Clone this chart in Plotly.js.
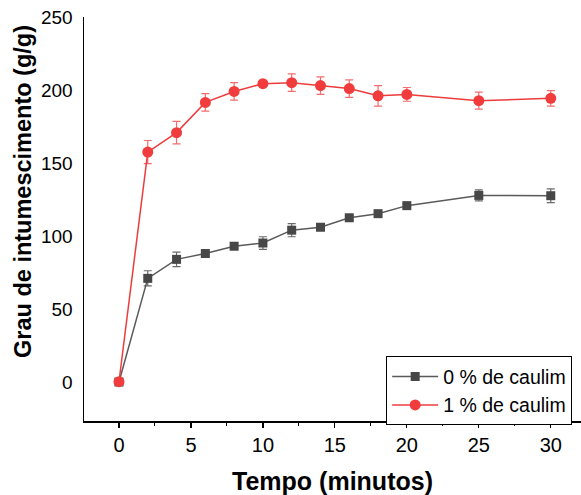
<!DOCTYPE html>
<html>
<head>
<meta charset="utf-8">
<script src="https://cdn.plot.ly/plotly-3.0.1.min.js"></script>
<style>html,body{margin:0;padding:0;background:#fff;}#chart{width:581px;height:495px;}</style>
</head>
<body>
<div id="chart"></div>
<script>
// Time (minutes)
const tempo = [0, 2, 4, 6, 8, 10, 12, 14, 16, 18, 20, 25, 30];

// 0 % de caulim
const caulim0 = [0, 71, 84, 88, 93, 95.2, 104, 106, 112.5, 115.3, 120.8, 127.8, 127.6];
const caulim0Err = [0, 5.2, 5, 1.5, 1.5, 4.3, 4.5, 1.5, 1.5, 1.5, 1.5, 3.8, 4.7];

// 1 % de caulim
const caulim1 = [0.2, 157.5, 170.8, 191.5, 199, 204.3, 205, 203, 201, 196, 197, 192.7, 194.3];
const caulim1Err = [0, 7.9, 7.7, 6, 6, 1.5, 6, 6, 6, 7, 4.7, 5.8, 5.3];

const seriesNames = ["0 % de caulim", "1 % de caulim"];
const xTicks = [0, 5, 10, 15, 20, 25, 30];
const yTicks = [0, 50, 100, 150, 200, 250];
const xTitle = "Tempo (minutos)";
const yTitle = "Grau de intumescimento (g/g)";

const font = "Arial, 'Liberation Sans', sans-serif";

const traces = [
  {
    x: tempo, y: caulim0, name: seriesNames[0], type: "scatter", mode: "lines+markers",
    line: {color: "#5a5a5a", width: 1.5},
    marker: {symbol: "square", size: 9, color: "#474747"},
    error_y: {type: "data", array: caulim0Err, visible: true, color: "#6a6a6a", thickness: 1.2, width: 4}
  },
  {
    x: tempo, y: caulim1, name: seriesNames[1], type: "scatter", mode: "lines+markers",
    line: {color: "#ee3c3c", width: 1.5},
    marker: {symbol: "circle", size: 11, color: "#f03c3c"},
    error_y: {type: "data", array: caulim1Err, visible: true, color: "rgba(238,60,60,0.75)", thickness: 1.2, width: 4}
  }
];

const layout = {
  width: 581, height: 495,
  margin: {l: 84, r: 0, t: 17, b: 74},
  paper_bgcolor: "#fff", plot_bgcolor: "#fff",
  font: {family: font, color: "#000"},
  showlegend: true,
  legend: {
    x: 0.608, y: 0.16, xanchor: "left", yanchor: "top",
    bgcolor: "#fff", bordercolor: "#000", borderwidth: 1,
    font: {family: font, size: 19.5, color: "#000"},
    tracegroupgap: 0, itemwidth: 46
  },
  xaxis: {
    range: [-2.43, 32.1],
    tickmode: "array", tickvals: xTicks, ticktext: xTicks.map(String),
    ticks: "outside", ticklen: 5, tickwidth: 1.2, tickcolor: "#000",
    minor: {dtick: 2.5, tick0: 0, ticks: "outside", ticklen: 3, tickwidth: 1, tickcolor: "#000", showgrid: false},
    showline: true, linecolor: "#000", linewidth: 1.5,
    showgrid: false, zeroline: false,
    tickfont: {family: font, size: 20, color: "#000"},
    title: {text: "<b>" + xTitle + "</b>", font: {family: font, size: 25, color: "#000"}, standoff: 20}
  },
  yaxis: {
    range: [-26.7, 250],
    tickmode: "array", tickvals: yTicks, ticktext: yTicks.map(String),
    ticks: "", ticklabelstandoff: 6,
    showline: true, linecolor: "#000", linewidth: 1.5,
    showgrid: false, zeroline: false,
    tickfont: {family: font, size: 19, color: "#000"}
  },
  annotations: [{
    text: "<b>" + yTitle + "</b>", textangle: -90,
    xref: "paper", yref: "paper", x: -0.1227, y: 0.567,
    xanchor: "center", yanchor: "middle", showarrow: false,
    font: {family: font, size: 23.5, color: "#000"}
  }]
};

Plotly.newPlot("chart", traces, layout, {staticPlot: true, displayModeBar: false});
</script>
</body>
</html>
